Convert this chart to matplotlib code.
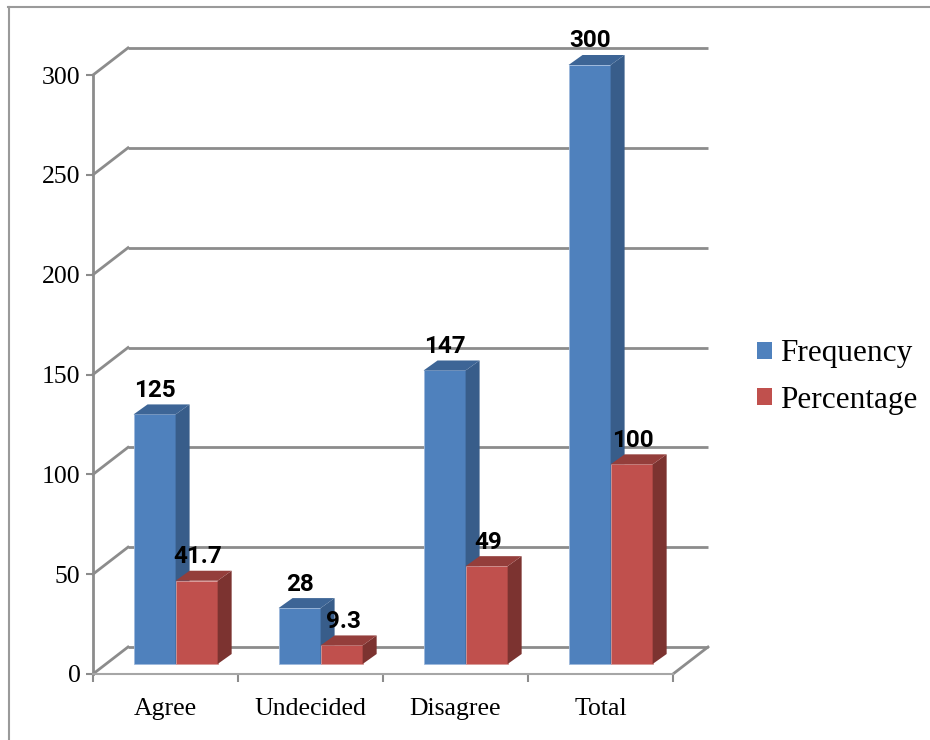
import matplotlib
matplotlib.use('Agg')
import matplotlib.pyplot as plt
from matplotlib.patches import Polygon, Patch
from matplotlib.lines import Line2D

# data
categories = ['Agree', 'Undecided', 'Disagree', 'Total']
frequency = [125, 28, 147, 300]
percentage = [41.7, 9.3, 49, 100]
freq_labels = ['125', '28', '147', '300']
pct_labels = ['41.7', '9.3', '49', '100']
y_ticks = [0, 50, 100, 150, 200, 250, 300]

BLUE = ('#4F81BD', '#385D8A', '#3D6596')
RED = ('#C0504D', '#7C3330', '#943E3B')
GRID = '#8C8C8C'

W, H = 930, 740
fig = plt.figure(figsize=(W / 100, H / 100), dpi=100)
ax = fig.add_axes([93 / W, (H - 674) / H, 580 / W, 599 / H])
ax.set_xlim(-0.5, 3.5)
ax.set_ylim(0, 300)

# pixel -> data conversion for the fake 3d depth
px_x = 580 / 4
px_y = 599 / 300


def off(dx, dy):
    return dx / px_x, dy / px_y


wall = off(35, 27)
front = off(13, 10)
back = off(27, 20)

# back wall gridlines and left wall diagonals
for v in y_ticks:
    ax.plot([-0.5 + wall[0], 3.5 + wall[0]], [v + wall[1], v + wall[1]],
            color=GRID, lw=2, clip_on=False, zorder=1, solid_capstyle='butt')
    ax.plot([-0.5, -0.5 + wall[0]], [v, v + wall[1]],
            color=GRID, lw=2, clip_on=False, zorder=1)
# floor right edge
ax.plot([3.5, 3.5 + wall[0]], [0, wall[1]], color=GRID, lw=2, clip_on=False, zorder=1)


def draw_bar(x0, w, v, colors, z):
    fx, fy = front
    bx, by = back
    ax.bar(x0 + fx, v, width=w, bottom=fy, align='edge', color=colors[0],
           edgecolor='#9DB9DC' if colors is BLUE else '#D99A98', linewidth=0.6,
           zorder=z, clip_on=False)
    side = Polygon([(x0 + w + fx, fy), (x0 + w + fx, v + fy),
                    (x0 + w + bx, v + by), (x0 + w + bx, by)],
                   closed=True, facecolor=colors[1], edgecolor='none', zorder=z, clip_on=False)
    top = Polygon([(x0 + fx, v + fy), (x0 + w + fx, v + fy),
                   (x0 + w + bx, v + by), (x0 + bx, v + by)],
                  closed=True, facecolor=colors[2], edgecolor='none', zorder=z, clip_on=False)
    ax.add_patch(side)
    ax.add_patch(top)


bar_w = 0.29
label_dy = off(0, 24)[1]
for i in range(len(categories)):
    x_blue = i - 0.02 - bar_w
    x_red = i - 0.02
    draw_bar(x_blue, bar_w, frequency[i], BLUE, 2 + i * 2)
    draw_bar(x_red, bar_w, percentage[i], RED, 3 + i * 2)
    ax.text(x_blue + front[0] + bar_w / 2, frequency[i] + front[1] + label_dy,
            freq_labels[i], ha='center', va='center', fontsize=17.5,
            fontweight='bold', family='Roboto', zorder=20, clip_on=False)
    ax.text(x_red + front[0] + bar_w / 2 + 0.01, percentage[i] + front[1] + label_dy,
            pct_labels[i], ha='center', va='center', fontsize=17.5,
            fontweight='bold', family='Roboto', zorder=20, clip_on=False)

# axes styling
for s in ['top', 'right']:
    ax.spines[s].set_visible(False)
ax.spines['left'].set_color(GRID)
ax.spines['left'].set_linewidth(2)
ax.spines['bottom'].set_color('#A6A6A6')
ax.spines['bottom'].set_linewidth(1.5)
ax.set_yticks(y_ticks)
ax.set_yticklabels([str(v) for v in y_ticks], family='Liberation Serif', fontsize=18.5)
ax.tick_params(axis='y', length=5, width=1.5, color=GRID, pad=4)
ax.set_xticks(range(len(categories)))
ax.set_xticklabels(categories, family='Liberation Serif', fontsize=18.5)
ax.set_xticks([-0.5, 0.5, 1.5, 2.5, 3.5], minor=True)
ax.tick_params(axis='x', which='major', length=0, pad=17)
ax.tick_params(axis='x', which='minor', length=6, width=1.5, color=GRID)
ax.patch.set_visible(False)

handles = [Patch(facecolor=BLUE[0]), Patch(facecolor=RED[0])]
fig.legend(handles, ['Frequency', 'Percentage'], loc='center left',
           bbox_to_anchor=(757 / W, 1 - 377 / H), frameon=False,
           prop={'family': 'Liberation Serif', 'size': 22.5},
           handlelength=0.48, handleheight=0.48, handletextpad=0.25,
           labelspacing=0.55, borderpad=0, borderaxespad=0)

# outer frame (top and left edges only)
fig.add_artist(Line2D([8 / W, 1], [1 - 7 / H, 1 - 7 / H], color='#9A9A9A', lw=1.5,
                      transform=fig.transFigure))
fig.add_artist(Line2D([9 / W, 9 / W], [0, 1 - 7 / H], color='#9A9A9A', lw=1.5,
                      transform=fig.transFigure))

fig.savefig('out.png', dpi=100)
